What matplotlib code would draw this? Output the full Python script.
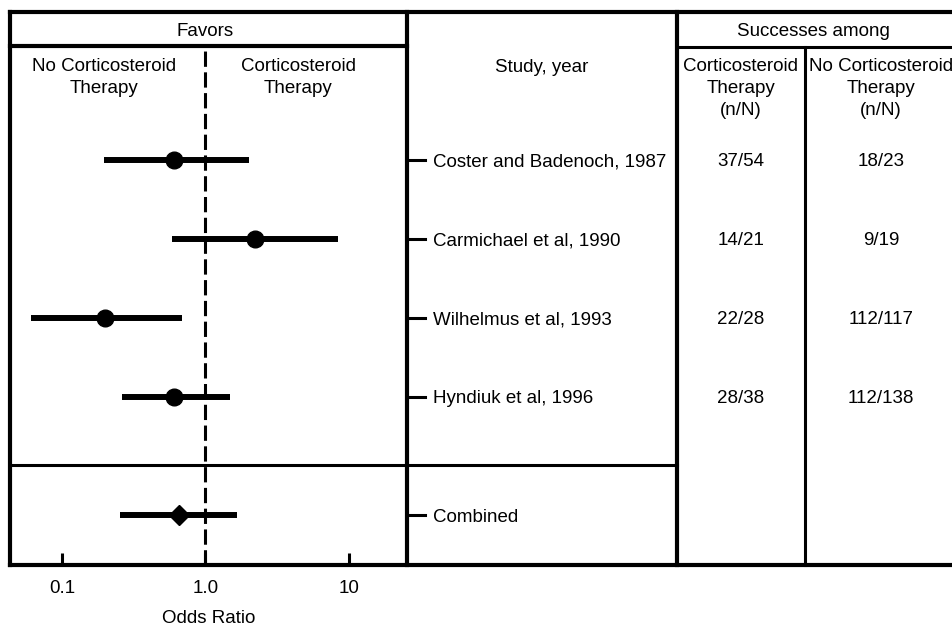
import matplotlib
matplotlib.use("Agg")
import numpy as np
import matplotlib.pyplot as plt
import matplotlib.transforms as mtransforms

plt.rcParams["font.family"] = ["Liberation Sans", "DejaVu Sans"]
plt.rcParams["font.size"] = 13.5

studies = ["Coster and Badenoch, 1987", "Carmichael et al, 1990",
           "Wilhelmus et al, 1993", "Hyndiuk et al, 1996"]
odds = [0.60, 2.23, 0.20, 0.60]
ci_low = [0.195, 0.58, 0.061, 0.264]
ci_high = [2.0, 8.45, 0.69, 1.49]
steroid = ["37/54", "14/21", "22/28", "28/38"]
no_steroid = ["18/23", "9/19", "112/117", "112/138"]
comb_or, comb_low, comb_high = 0.65, 0.252, 1.67
xticks = [0.1, 1.0, 10]
xtick_labels = ["0.1", "1.0", "10"]

W, H = 952, 627
fig = plt.figure(figsize=(W / 100, H / 100), dpi=100)

def px_box(x0, y0, x1, y1):
    return [x0 / W, 1 - y1 / H, (x1 - x0) / W, (y1 - y0) / H]

# forest plot panel
ax = fig.add_axes(px_box(10, 46, 407, 565))
ax.set_xscale("log")
ax.set_xlim(0.0434, 25.4)
rows = np.arange(1, len(studies) + 1)
comb_row = len(studies) + 1.5
ax.set_ylim(6.13, -0.44)
for s in ax.spines.values():
    s.set_visible(False)
ax.set_yticks([])
ax.set_xticks(xticks)
ax.set_xticklabels(xtick_labels)
ax.minorticks_off()
ax.tick_params(axis="x", direction="in", length=9, width=2.2, pad=11)
ax.set_xlabel("Odds Ratio", labelpad=9)
ax.patch.set_alpha(0)

ax.axvline(1.0, color="black", lw=2.2, ls=(0, (5, 1.8)), zorder=1)
ax.hlines(rows, ci_low, ci_high, color="black", lw=4.3, zorder=2)
ax.plot(odds, rows, "o", color="black", ms=12, zorder=3)
ax.hlines(comb_row, comb_low, comb_high, color="black", lw=4.3, zorder=2)
ax.plot(comb_or, comb_row, "D", color="black", ms=10.5, zorder=3)

# table overlay in pixel coordinates
tab = fig.add_axes([0, 0, 1, 1])
tab.set_xlim(0, W)
tab.set_ylim(H, 0)
tab.axis("off")
tab.patch.set_alpha(0)

lw_out, lw_in = 3.0, 2.2
tab.plot([10, 960], [12, 12], color="black", lw=lw_out)
tab.plot([10, 960], [565, 565], color="black", lw=lw_out)
tab.plot([10, 10], [12, 565], color="black", lw=lw_out)
tab.plot([407, 407], [12, 565], color="black", lw=lw_out)
tab.plot([677, 677], [12, 565], color="black", lw=lw_out)
tab.plot([805, 805], [47, 565], color="black", lw=lw_in)
tab.plot([10, 407], [46, 46], color="black", lw=lw_out)
tab.plot([677, 960], [47, 47], color="black", lw=lw_in)
tab.plot([10, 677], [465, 465], color="black", lw=lw_in)

tab.text(205, 31, "Favors", ha="center", va="center")
tab.text(104, 58, "No Corticosteroid\nTherapy", ha="center", va="top", linespacing=1.38)
tab.text(298, 58, "Corticosteroid\nTherapy", ha="center", va="top", linespacing=1.38)
tab.text(542, 59, "Study, year", ha="center", va="top")
tab.text(813, 31, "Successes among", ha="center", va="center")
tab.text(741, 58, "Corticosteroid\nTherapy\n(n/N)", ha="center", va="top", linespacing=1.38)
tab.text(881, 58, "No Corticosteroid\nTherapy\n(n/N)", ha="center", va="top", linespacing=1.38)

# row labels use the forest panel's y scale
blend = mtransforms.blended_transform_factory(tab.transData, ax.transData)
all_rows = list(rows) + [comb_row]
labels = studies + ["Combined"]
for r, lab in zip(all_rows, labels):
    tab.plot([407, 425], [r, r], color="black", lw=lw_in, transform=blend)
    tab.text(433, r, lab, ha="left", va="center_baseline", transform=blend)
for r, a, b in zip(rows, steroid, no_steroid):
    tab.text(741, r, a, ha="center", va="center_baseline", transform=blend)
    tab.text(881, r, b, ha="center", va="center_baseline", transform=blend)

fig.savefig("out.png", dpi=100)
